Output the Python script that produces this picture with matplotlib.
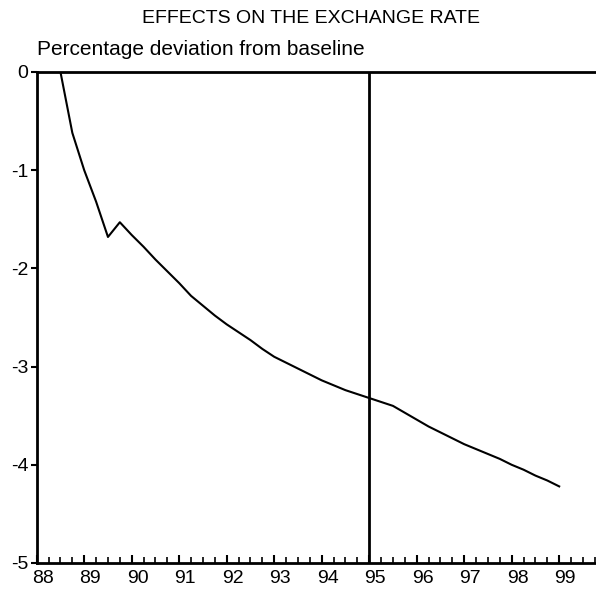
import matplotlib
matplotlib.use("Agg")
import matplotlib.pyplot as plt
import matplotlib.transforms as mtransforms
from matplotlib.ticker import MultipleLocator, FixedLocator
import numpy as np

plt.rcParams['font.family'] = ['Liberation Sans', 'DejaVu Sans']

title = "EFFECTS ON THE EXCHANGE RATE"
subtitle = "Percentage deviation from baseline"

quarters = [88.50, 88.75, 89.00, 89.25, 89.50, 89.75,
            90.00, 90.25, 90.50, 90.75, 91.00, 91.25, 91.50, 91.75,
            92.00, 92.25, 92.50, 92.75, 93.00, 93.25, 93.50, 93.75,
            94.00, 94.25, 94.50, 94.75, 95.00, 95.25, 95.50, 95.75,
            96.00, 96.25, 96.50, 96.75, 97.00, 97.25, 97.50, 97.75,
            98.00, 98.25, 98.50, 98.75, 99.00]
deviation = [0.00, -0.62, -1.00, -1.32, -1.68, -1.53,
             -1.66, -1.78, -1.91, -2.03, -2.15, -2.28, -2.38, -2.48,
             -2.57, -2.65, -2.73, -2.82, -2.90, -2.96, -3.02, -3.08,
             -3.14, -3.19, -3.24, -3.28, -3.32, -3.36, -3.40, -3.47,
             -3.54, -3.61, -3.67, -3.73, -3.79, -3.84, -3.89, -3.94,
             -4.00, -4.05, -4.11, -4.16, -4.22]

year_ticks = list(range(88, 100))
year_labels = [str(y) for y in year_ticks]
y_ticks = [0, -1, -2, -3, -4, -5]
y_labels = ["0", "-1", "-2", "-3", "-4", "-5"]
marker_year = 95

fig = plt.figure(figsize=(5.96, 5.93), dpi=100)
ax = fig.add_axes([0.0616, 0.0506, 0.9364, 0.828])

ax.plot(quarters, deviation, color='black', lw=1.5)
ax.axvline(marker_year, color='black', lw=2.0)

ax.set_xlim(88, 99.75)
ax.set_ylim(-5, 0)

ax.spines['right'].set_visible(False)
for s in ['left', 'top', 'bottom']:
    ax.spines[s].set_linewidth(2.0)
    ax.spines[s].set_color('black')

ax.set_yticks(y_ticks)
ax.set_yticklabels(y_labels, fontsize=14)
ax.tick_params(axis='y', direction='out', length=4, width=1.5, pad=2)

ax.xaxis.set_major_locator(FixedLocator(year_ticks))
ax.set_xticklabels(year_labels, fontsize=14)
ax.xaxis.set_minor_locator(MultipleLocator(0.25))
ax.tick_params(axis='x', which='major', direction='in', length=6, width=1.5, pad=5)
ax.tick_params(axis='x', which='minor', direction='in', length=4, width=1.2)

offset = mtransforms.ScaledTranslation(6 / 100, 0, fig.dpi_scale_trans)
for lab in ax.get_xticklabels():
    lab.set_transform(lab.get_transform() + offset)

fig.text(0.522, 0.968, title, ha='center', va='center', fontsize=14)
fig.text(0.062, 0.916, subtitle, ha='left', va='center', fontsize=15)

fig.savefig("out.png", dpi=100, facecolor='white')
